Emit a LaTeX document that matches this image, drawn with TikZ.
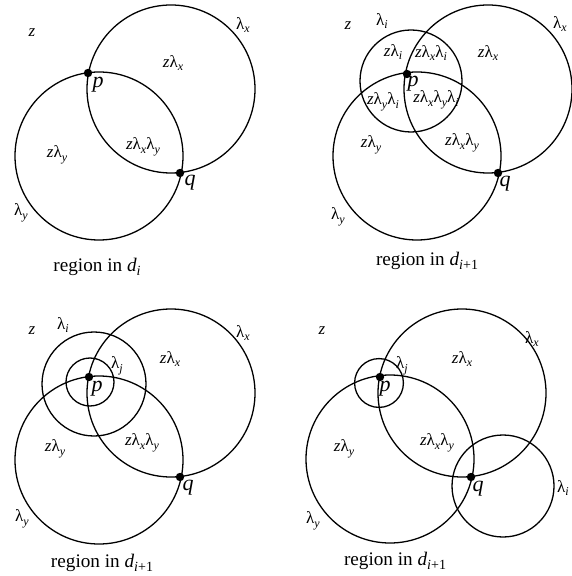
\documentclass[tikz,border=0pt]{standalone}
\usepackage{fontspec}
\setmainfont{Liberation Serif}

\newcommand{\lamsub}[1]{λ\raisebox{-0.5ex}{\fontsize{6}{6}\selectfont\textit{#1}}}
\newcommand{\zv}{\textit{z}}
\newcommand{\dsub}[1]{\textit{d}\raisebox{-0.5ex}{\fontsize{7}{7}\selectfont#1}}

\begin{document}
\begin{tikzpicture}[x=0.5pt, y=-0.5pt,
    ring/.style={line width=0.65pt},
    lbl/.style={font=\fontsize{8.5}{10}\selectfont, inner sep=0pt},
    ptname/.style={font=\fontsize{11}{12}\selectfont\itshape, inner sep=0pt},
    capt/.style={font=\fontsize{9.6}{12}\selectfont, inner sep=0pt}]

\useasboundingbox (0,0) rectangle (571,576);

% Circles (centre x / centre y / radius in pt)
\foreach \cx/\cy/\r in {171/89/42, 99/156/42,
                        488/89/42, 417/156/42, 411/81/25.5,
                        171/393/42, 99/460/42, 94/384/26, 90/382/12,
                        462/393/42, 390/459/42, 379/383/12.2, 503/486/25.5} {
    \draw[ring] (\cx,\cy) circle (\r pt);
}

% Points p and q
\coordinate (p1) at (88,73);   \coordinate (q1) at (180,173);
\coordinate (p2) at (407,74);  \coordinate (q2) at (498,173);
\coordinate (p3) at (89,377);  \coordinate (q3) at (180,477);
\coordinate (p4) at (380,377); \coordinate (q4) at (471,477);
\foreach \n in {p1,q1,p2,q2,p3,q3,p4,q4} {
    \fill (\n) circle (2.1pt);
}

% Panel 1
\node[lbl] (z1)   at (32,33)   {\zv};
\node[lbl] (lx1)  at (243,25)  {\lamsub{x}};
\node[lbl] (zx1)  at (173,63)  {\zv\lamsub{x}};
\node[lbl] (zxy1) at (143,147) {\zv\lamsub{x}\lamsub{y}};
\node[lbl] (zy1)  at (57,155)  {\zv\lamsub{y}};
\node[lbl] (ly1)  at (21,213)  {\lamsub{y}};
\node[ptname] (np1) at (98,85)   {p};
\node[ptname] (nq1) at (190,183) {q};
\node[capt] (cap1) at (97,267) {region in \dsub{\textit{i}}};

% Panel 2
\node[lbl] (z2)    at (348,26)  {\zv};
\node[lbl] (li2)   at (382,21)  {\lamsub{i}};
\node[lbl] (lx2)   at (560,24)  {\lamsub{x}};
\node[lbl] (zi2)   at (393,52)  {\zv\lamsub{i}};
\node[lbl] (zxi2)  at (431,53)  {\zv\lamsub{x}\lamsub{i}};
\node[lbl] (zx2)   at (488,53)  {\zv\lamsub{x}};
\node[lbl] (zyi2)  at (383,102) {\zv\lamsub{y}\lamsub{i}};
\node[lbl] (zxyi2) at (436,100) {\zv\lamsub{x}\lamsub{y}\lamsub{i}};
\node[lbl] (zy2)   at (371,145) {\zv\lamsub{y}};
\node[lbl] (zxy2)  at (462,143) {\zv\lamsub{x}\lamsub{y}};
\node[lbl] (ly2)   at (338,217) {\lamsub{y}};
\node[ptname] (np2) at (413,84)  {p};
\node[ptname] (nq2) at (505,184) {q};
\node[capt] (cap2) at (427,261) {region in \dsub{\textit{i}+1}};

% Panel 3
\node[lbl] (z3)   at (32,331)  {\zv};
\node[lbl] (li3)  at (63,325)  {\lamsub{i}};
\node[lbl] (lx3)  at (243,333) {\lamsub{x}};
\node[lbl] (lj3)  at (117,366) {\lamsub{j}};
\node[lbl] (zx3)  at (170,359) {\zv\lamsub{x}};
\node[lbl] (zy3)  at (55,449)  {\zv\lamsub{y}};
\node[lbl] (zxy3) at (142,443) {\zv\lamsub{x}\lamsub{y}};
\node[lbl] (ly3)  at (22,519)  {\lamsub{y}};
\node[ptname] (np3) at (97,389)  {p};
\node[ptname] (nq3) at (188,488) {q};
\node[capt] (cap3) at (102,563) {region in \dsub{\textit{i}+1}};

% Panel 4
\node[lbl] (z4)   at (322,331) {\zv};
\node[lbl] (lx4)  at (532,339) {\lamsub{x}};
\node[lbl] (zx4)  at (462,359) {\zv\lamsub{x}};
\node[lbl] (lj4)  at (402,366) {\lamsub{j}};
\node[lbl] (zy4)  at (344,449) {\zv\lamsub{y}};
\node[lbl] (zxy4) at (437,443) {\zv\lamsub{x}\lamsub{y}};
\node[lbl] (li4)  at (563,488) {\lamsub{i}};
\node[lbl] (ly4)  at (313,521) {\lamsub{y}};
\node[ptname] (np4) at (385,389) {p};
\node[ptname] (nq4) at (478,489) {q};
\node[capt] (cap4) at (395,561) {region in \dsub{\textit{i}+1}};

\end{tikzpicture}
\end{document}
